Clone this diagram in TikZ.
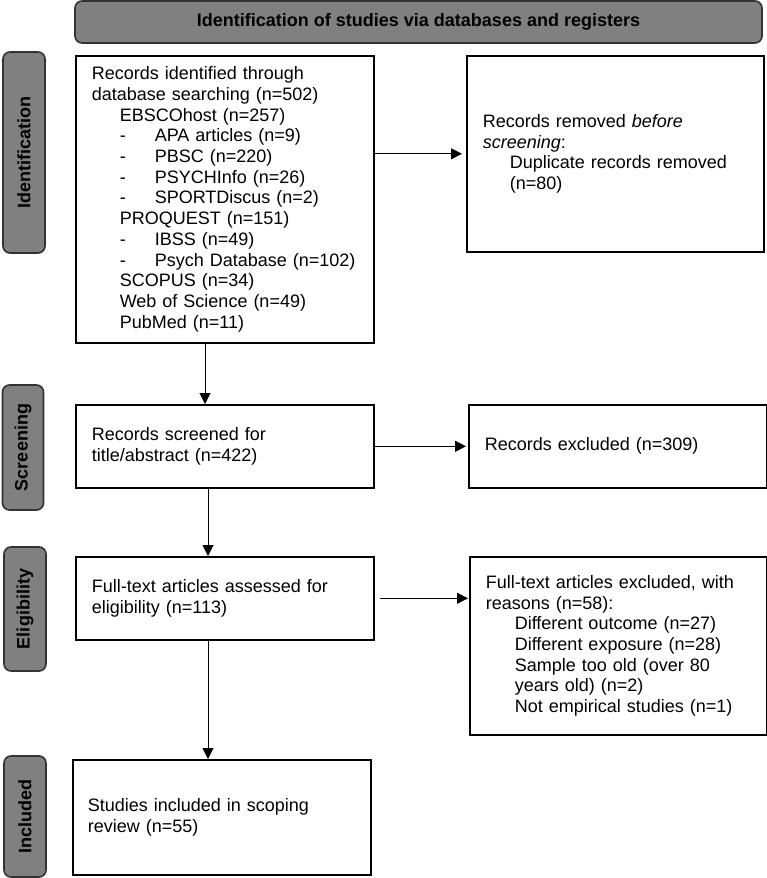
\documentclass[tikz,border=0pt]{standalone}
\usepackage{fontspec}
\setmainfont{Liberation Sans}
\usetikzlibrary{arrows.meta}
\definecolor{lblgray}{HTML}{808080}
\definecolor{lbledge}{HTML}{333333}
\begin{document}
\begin{tikzpicture}[x=1pt,y=-1pt,
  box/.style={draw=black, line width=1.6pt, anchor=north west, align=left,
    inner xsep=16pt, inner ysep=0pt, font=\fontsize{18}{20.7}\selectfont},
  lbl/.style={draw=lbledge, fill=lblgray, line width=1.6pt, rounded corners=7pt,
    inner sep=0pt, font=\bfseries\fontsize{18}{20.7}\selectfont},
  arr/.style={-{Triangle[length=11pt,width=11pt]}, line width=1pt}]
\useasboundingbox (0,0) rectangle (767,878);

% banner
\node[lbl, minimum width=687pt, minimum height=42pt] (banner) at (418.5,22)
  {Identification of studies via databases and registers};

% side labels
\node[lbl, rotate=90, minimum width=201pt, minimum height=42pt] (lid) at (24,152.5) {Identification};
\node[lbl, rotate=90, minimum width=125pt, minimum height=41pt] (lsc) at (23,447.5) {Screening};
\node[lbl, rotate=90, minimum width=124pt, minimum height=42pt] (lel) at (25,609) {Eligibility};
\node[lbl, rotate=90, minimum width=121pt, minimum height=42pt] (lin) at (25,816.5) {Included};

% main boxes
\node[box, minimum width=298pt, minimum height=287pt, text width=266pt] (b1) at (75,55)
  {Records identified through\\
   database searching (n=502)\\
   \hspace*{28pt}EBSCOhost (n=257)\\
   \hspace*{28pt}\makebox[35pt][l]{-}APA articles (n=9)\\
   \hspace*{28pt}\makebox[35pt][l]{-}PBSC (n=220)\\
   \hspace*{28pt}\makebox[35pt][l]{-}PSYCHInfo (n=26)\\
   \hspace*{28pt}\makebox[35pt][l]{-}SPORTDiscus (n=2)\\
   \hspace*{28pt}PROQUEST (n=151)\\
   \hspace*{28pt}\makebox[35pt][l]{-}IBSS (n=49)\\
   \hspace*{28pt}\makebox[35pt][l]{-}Psych Database (n=102)\\
   \hspace*{28pt}SCOPUS (n=34)\\
   \hspace*{28pt}Web of Science (n=49)\\
   \hspace*{28pt}PubMed (n=11)};

\node[box, minimum width=297pt, minimum height=196pt, text width=265pt] (r1) at (466,55)
  {Records removed \textit{before}\\
   \textit{screening}:\\
   \hspace*{27pt}Duplicate records removed\\
   \hspace*{27pt}(n=80)};

\node[box, minimum width=298pt, minimum height=83pt, text width=266pt] (b2) at (75,404)
  {Records screened for\\ title/abstract (n=422)};

\node[box, minimum width=298pt, minimum height=83pt, text width=266pt] (r2) at (468,404)
  {Records excluded (n=309)};

\node[box, minimum width=298pt, minimum height=83pt, text width=266pt] (b3) at (75,556)
  {Full-text articles assessed for\\ eligibility (n=113)};

\node[box, minimum width=297pt, minimum height=178pt, text width=265pt] (r3) at (469,556)
  {Full-text articles excluded, with\\
   reasons (n=58):\\
   \hspace*{29pt}Different outcome (n=27)\\
   \hspace*{29pt}Different exposure (n=28)\\
   \hspace*{29pt}Sample too old (over 80\\
   \hspace*{29pt}years old) (n=2)\\
   \hspace*{29pt}Not empirical studies (n=1)};

\node[box, minimum width=298pt, minimum height=115pt, text width=268pt, inner xsep=15pt] (b4) at (72,759)
  {Studies included in scoping\\ review (n=55)};

% connectors
\coordinate (d1) at (205,342);
\coordinate (d2) at (208,487);
\coordinate (d3) at (208,639);
\draw[arr, shorten >=4pt] (b1.east |- r1.west) -- (r1.west);
\draw[arr, shorten >=2pt] (b2.east) -- (b2.east -| r2.west);
\draw[arr, shorten <=5pt, shorten >=1pt] (b3.east) -- (b3.east -| r3.west);
\draw[arr] (d1) -- (d1 |- b2.north);
\draw[arr] (d2) -- (d2 |- b3.north);
\draw[arr] (d3) -- (d3 |- b4.north);
\end{tikzpicture}
\end{document}
